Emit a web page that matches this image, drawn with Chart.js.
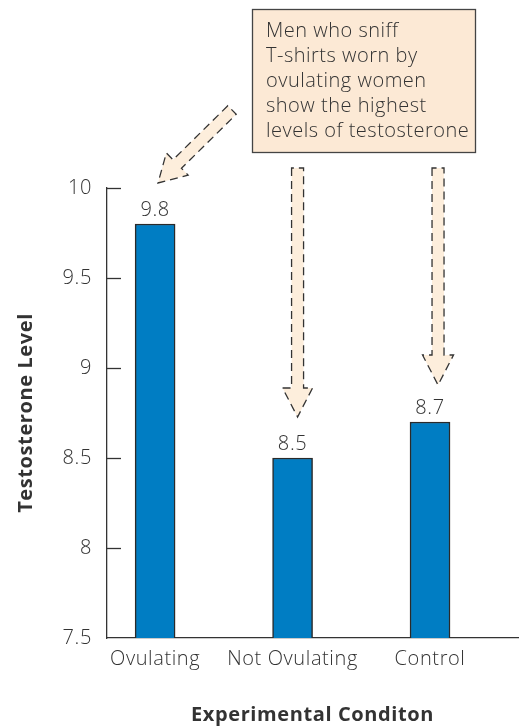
<!DOCTYPE html>
<html>
<head>
<meta charset="utf-8">
<script src="https://cdn.jsdelivr.net/npm/chart.js@4"></script>
<style>
html,body{margin:0;padding:0;background:#fff;}
#wrap{width:532px;height:727px;position:relative;}
</style>
</head>
<body>
<div id="wrap"><canvas id="c" width="532" height="727"></canvas></div>
<script>
// ---- data ----
const categories = ['Ovulating', 'Not Ovulating', 'Control'];
const testosterone = [9.8, 8.5, 8.7];
const yTicks = [7.5, 8, 8.5, 9, 9.5, 10];
const yTickLabels = ['7.5', '8', '8.5', '9', '9.5', '10'];
const calloutLines = ['Men who sniff', 'T-shirts worn by', 'ovulating women', 'show the highest', 'levels of testosterone'];
const xTitle = 'Experimental Conditon';
const yTitle = 'Testosterone Level';

const FONT = '"Open Sans", "Noto Sans", sans-serif';
const TEXT = '#333333';
const PEACH = '#FDEEDC';
const BOXFILL = '#FCE9D5';

function dashedArrow(ctx, x0, y0, x1, y1, shaftW, headW, headL) {
  const dx = x1 - x0, dy = y1 - y0;
  const L = Math.hypot(dx, dy);
  const ux = dx / L, uy = dy / L;
  const px = -uy, py = ux;
  const bx = x1 - ux * headL, by = y1 - uy * headL;
  const s = shaftW / 2, h = headW / 2;
  const pts = [
    [x0 + px * s, y0 + py * s],
    [bx + px * s, by + py * s],
    [bx + px * h, by + py * h],
    [x1, y1],
    [bx - px * h, by - py * h],
    [bx - px * s, by - py * s],
    [x0 - px * s, y0 - py * s]
  ];
  ctx.save();
  ctx.beginPath();
  ctx.moveTo(pts[0][0], pts[0][1]);
  for (let i = 1; i < pts.length; i++) ctx.lineTo(pts[i][0], pts[i][1]);
  ctx.closePath();
  ctx.fillStyle = PEACH;
  ctx.fill();
  ctx.setLineDash([8, 5]);
  ctx.lineWidth = 1.3;
  ctx.strokeStyle = '#333';
  ctx.stroke();
  ctx.restore();
}

const spacing = {
  id: 'spacing',
  beforeDraw(chart) { chart.ctx.letterSpacing = '0.6px'; }
};

const annotate = {
  id: 'annotate',
  afterDraw(chart) {
    const ctx = chart.ctx;
    const xs = chart.scales.x, ys = chart.scales.y;
    const axisX = chart.chartArea.left;
    // inward tick marks on y axis
    ctx.save();
    ctx.strokeStyle = '#333';
    ctx.lineWidth = 1.3;
    yTicks.forEach(v => {
      if (v === ys.min) return;
      const y = Math.round(ys.getPixelForValue(v)) + 0.5;
      ctx.beginPath();
      ctx.moveTo(axisX, y);
      ctx.lineTo(axisX + 14, y);
      ctx.stroke();
    });
    ctx.restore();
    // bar value labels
    const meta = chart.getDatasetMeta(0);
    ctx.save();
    ctx.fillStyle = TEXT;
    ctx.font = '300 20px ' + FONT;
    ctx.textAlign = 'center';
    ctx.textBaseline = 'alphabetic';
    meta.data.forEach((bar, i) => {
      ctx.fillText(String(testosterone[i]), bar.x, bar.y - 8);
    });
    ctx.restore();
    // callout box
    ctx.save();
    ctx.fillStyle = BOXFILL;
    ctx.strokeStyle = '#444';
    ctx.lineWidth = 1.3;
    ctx.fillRect(252, 9, 223, 143);
    ctx.strokeRect(252.5, 9.5, 223, 143);
    ctx.fillStyle = TEXT;
    ctx.font = '300 20px ' + FONT;
    ctx.letterSpacing = '0.5px';
    ctx.textAlign = 'left';
    calloutLines.forEach((t, i) => ctx.fillText(t, 266, 37 + i * 25));
    ctx.restore();
    // arrows
    dashedArrow(ctx, 232, 110, 158, 183, 12, 31, 27);
    const x1 = xs.getPixelForValue(1) + 5;
    const x2 = xs.getPixelForValue(2) + 8;
    dashedArrow(ctx, x1, 168, x1, 417, 12, 30, 29);
    dashedArrow(ctx, x2, 168, x2, 385, 12, 31, 30);
  }
};

new Chart(document.getElementById('c'), {
  type: 'bar',
  data: {
    datasets: [{
      data: categories.map((c, i) => ({ x: i, y: testosterone[i] })),
      backgroundColor: '#007DC3',
      borderColor: '#2a2a2a',
      borderWidth: 1.5,
      borderSkipped: 'bottom',
      barThickness: 40
    }]
  },
  options: {
    responsive: false,
    animation: false,
    devicePixelRatio: 1,
    layout: { padding: { top: 188, right: 14, left: 0, bottom: 0 } },
    plugins: { legend: { display: false }, tooltip: { enabled: false } },
    scales: {
      x: {
        type: 'linear',
        offset: false,
        min: -0.35,
        max: 2.64,
        afterFit(s) { s.height = 89; },
        afterBuildTicks(s) { s.ticks = categories.map((c, i) => ({ value: i })); },
        ticks: {
          callback: v => categories[v] !== undefined ? categories[v] : '',
          color: TEXT,
          font: { family: FONT, size: 20, weight: 300 },
          padding: 9,
          maxRotation: 0,
          autoSkip: false
        },
        grid: { display: false, drawTicks: false, offset: false },
        border: { display: true, color: '#333', width: 1.3 },
        title: {
          display: true,
          text: xTitle,
          color: TEXT,
          font: { family: FONT, size: 20, weight: 'bold' },
          padding: { top: 0, bottom: 0 }
        }
      },
      y: {
        min: 7.5,
        max: 10,
        afterFit(s) { s.width = 107; },
        afterBuildTicks(s) { s.ticks = yTicks.map(v => ({ value: v })); },
        ticks: {
          callback: (v) => yTickLabels[yTicks.indexOf(v)],
          color: TEXT,
          font: { family: FONT, size: 20, weight: 300 },
          padding: 15
        },
        grid: { display: false, drawTicks: false },
        border: { display: true, color: '#333', width: 1.3 },
        title: {
          display: true,
          text: yTitle,
          color: TEXT,
          font: { family: FONT, size: 20, weight: 'bold' },
          padding: { top: 14, bottom: 0 }
        }
      }
    }
  },
  plugins: [spacing, annotate]
});
</script>
</body>
</html>
